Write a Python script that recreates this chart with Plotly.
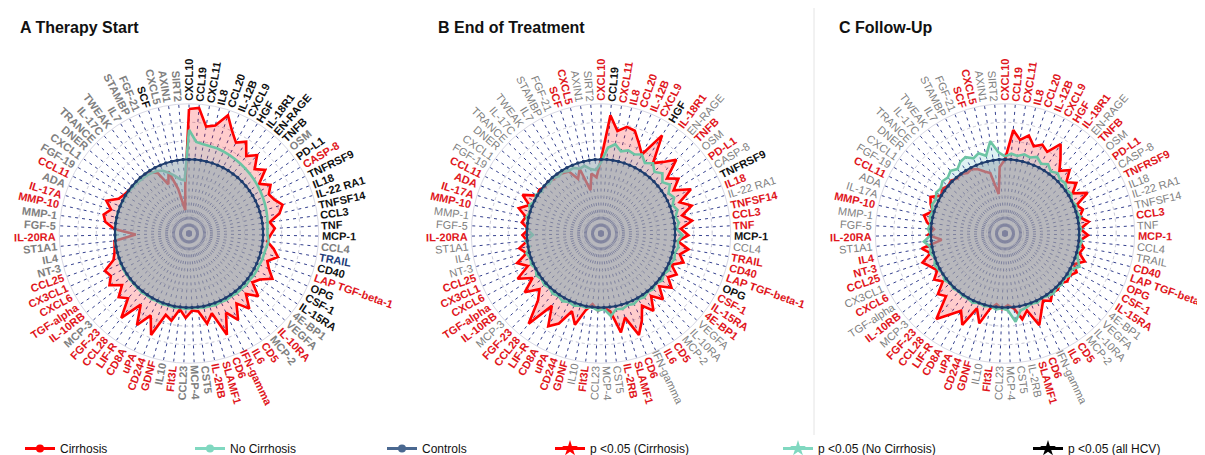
import math
import plotly.graph_objects as go

categories = [
    "CXCL10", "CCL19", "CXCL11", "IL8", "CCL20", "IL-12B", "CXCL9", "HGF", "IL-18R1", "EN-RAGE",
    "TNFB", "OSM", "PD-L1", "CASP-8", "TNFRSF9", "IL18", "IL-22 RA1", "TNFSF14", "CCL3", "TNF",
    "MCP-1", "CCL4", "TRAIL", "CD40", "LAP TGF-beta-1", "OPG", "CSF-1", "IL-15RA", "4E-BP1", "VEGFA",
    "IL-10RA", "MCP-2", "CD5", "IL6", "IFN-gamma", "CD6", "SLAMF1", "IL-2RB", "CST5", "MCP-4",
    "CCL23", "Flt3L", "IL10", "GDNF", "CD244", "uPA", "CD8A", "LIF-R", "CCL28", "FGF-23",
    "MCP-3", "IL-10RB", "TGF-alpha", "CXCL6", "CX3CL1", "CCL25", "NT-3", "IL4", "ST1A1", "IL-20RA",
    "FGF-5", "MMP-1", "MMP-10", "IL-17A", "ADA", "CCL11", "FGF-19", "CXCL1", "DNER", "TRANCE",
    "IL-17C", "TWEAK", "IL7", "STAMBP", "FGF-21", "SCF", "CXCL5", "AXIN1", "SIRT2",
]

controls = [
    100, 100, 100, 100, 100, 100, 100, 100, 100, 100,
    100, 100, 100, 100, 100, 100, 100, 100, 100, 100,
    100, 100, 100, 100, 100, 100, 100, 100, 100, 100,
    100, 100, 100, 100, 100, 100, 100, 100, 100, 100,
    100, 100, 100, 100, 100, 100, 100, 100, 100, 100,
    100, 100, 100, 100, 100, 100, 100, 100, 100, 100,
    100, 100, 100, 100, 100, 100, 100, 100, 100, 100,
    100, 100, 100, 100, 100, 100, 100, 100, 100,
]

cirrhosis_A = [
    168, 170, 146, 150, 168, 150, 138, 146, 130, 140,
    124, 134, 116, 128, 120, 124, 132, 125, 110, 116,
    110, 106, 116, 124, 112, 118, 128, 114, 108, 126,
    112, 130, 114, 134, 118, 146, 112, 124, 106, 104,
    114, 103, 120, 114, 146, 122, 142, 116, 146, 120,
    128, 114, 128, 120, 124, 108, 104, 102, 101, 72,
    101, 114, 118, 110, 120, 106, 102, 100, 99, 98,
    99, 98, 97, 92, 72, 88, 62, 32, 64,
]
no_cirrhosis_A = [
    140, 124, 122, 121, 121, 120, 119, 118, 117, 116,
    115, 114, 113, 112, 111, 110, 109, 108, 107, 106,
    106, 108, 106, 105, 105, 104, 104, 104, 103, 104,
    103, 103, 102, 103, 102, 103, 102, 102, 101, 101,
    102, 101, 102, 101, 102, 101, 102, 101, 102, 101,
    101, 101, 101, 101, 101, 100, 100, 100, 100, 99,
    100, 100, 100, 100, 100, 99, 99, 99, 98, 98,
    97, 97, 96, 95, 92, 86, 80, 74, 72,
]
cirrhosis_B = [
    100, 160, 140, 148, 146, 132, 120, 156, 118, 128,
    142, 116, 128, 114, 135, 114, 128, 112, 124, 108,
    118, 104, 120, 110, 118, 104, 116, 108, 120, 106,
    122, 108, 126, 112, 130, 146, 118, 136, 106, 100,
    104, 96, 106, 128, 112, 134, 144, 118, 156, 124,
    112, 130, 110, 128, 108, 120, 104, 112, 100, 106,
    98, 108, 104, 116, 104, 118, 100, 102, 98, 100,
    97, 98, 96, 94, 80, 92, 60, 82, 76,
]
no_cirrhosis_B = [
    96, 116, 122, 114, 118, 116, 120, 112, 118, 110,
    116, 108, 114, 106, 110, 104, 108, 103, 106, 102,
    110, 104, 106, 103, 105, 102, 104, 101, 104, 100,
    103, 101, 104, 102, 105, 103, 106, 104, 112, 102,
    104, 100, 102, 101, 104, 102, 105, 102, 104, 101,
    103, 101, 104, 100, 103, 101, 104, 98, 102, 92,
    100, 99, 103, 100, 104, 99, 102, 98, 100, 97,
    99, 96, 98, 95, 96, 92, 94, 88, 86,
]
cirrhosis_C = [
    100, 140, 128, 136, 124, 130, 124, 142, 126, 112,
    122, 108, 118, 106, 124, 104, 110, 103, 114, 102,
    112, 101, 108, 104, 114, 102, 110, 104, 106, 100,
    104, 102, 110, 104, 116, 132, 108, 118, 102, 97,
    102, 96, 104, 126, 108, 136, 120, 132, 148, 116,
    122, 106, 114, 104, 110, 118, 104, 114, 86, 104,
    96, 106, 112, 102, 108, 112, 100, 104, 100, 102,
    98, 100, 96, 98, 94, 88, 84, 54, 90,
]
no_cirrhosis_C = [
    104, 108, 106, 110, 108, 112, 106, 110, 104, 108,
    104, 106, 102, 104, 100, 103, 101, 104, 100, 103,
    99, 104, 102, 101, 104, 110, 102, 104, 100, 103,
    101, 104, 102, 100, 103, 101, 104, 106, 120, 104,
    101, 103, 100, 102, 100, 103, 101, 102, 100, 102,
    100, 103, 100, 102, 104, 100, 104, 102, 110, 100,
    104, 101, 104, 102, 106, 104, 108, 106, 110, 108,
    112, 108, 114, 116, 110, 114, 108, 126, 110,
]

# label colour codes: r = p<0.05 cirrhosis, k = all HCV, g = n.s., b = no cirrhosis
label_codes_A = [
    "k", "k", "k", "k", "k", "k", "k", "k", "k", "k",
    "k", "g", "k", "r", "k", "k", "k", "k", "k", "k",
    "k", "g", "b", "k", "r", "k", "k", "k", "g", "g",
    "r", "g", "r", "r", "r", "r", "r", "r", "g", "g",
    "g", "r", "g", "r", "r", "r", "r", "r", "r", "r",
    "g", "r", "r", "r", "r", "r", "g", "g", "g", "r",
    "g", "g", "r", "r", "g", "r", "g", "g", "g", "g",
    "g", "g", "g", "g", "g", "k", "g", "g", "g",
]
label_codes_B = [
    "r", "k", "r", "r", "r", "r", "r", "k", "r", "g",
    "r", "g", "r", "g", "k", "r", "g", "r", "r", "r",
    "k", "g", "r", "r", "r", "k", "r", "r", "r", "g",
    "g", "g", "r", "r", "g", "r", "r", "r", "g", "g",
    "g", "r", "g", "r", "r", "r", "r", "r", "r", "r",
    "g", "r", "r", "r", "r", "r", "g", "g", "g", "r",
    "g", "g", "r", "r", "r", "r", "g", "g", "g", "g",
    "g", "g", "g", "g", "g", "r", "r", "g", "g",
]
label_codes_C = [
    "r", "r", "r", "r", "r", "r", "r", "r", "r", "g",
    "r", "g", "r", "g", "r", "g", "g", "g", "r", "g",
    "r", "g", "g", "r", "r", "r", "r", "r", "g", "g",
    "g", "g", "r", "r", "g", "r", "r", "g", "g", "g",
    "g", "r", "g", "r", "r", "r", "r", "r", "r", "r",
    "g", "r", "g", "r", "g", "r", "r", "r", "g", "r",
    "g", "g", "r", "g", "g", "r", "g", "g", "g", "g",
    "g", "g", "g", "g", "g", "r", "r", "g", "g",
]

panel_titles = ["A Therapy Start", "B End of Treatment", "C Follow-Up"]
legend_names = ["Cirrhosis", "No Cirrhosis", "Controls",
                "p <0.05 (Cirrhosis)", "p <0.05 (No Cirrhosis)", "p <0.05 (all HCV)"]

panels = [
    (cirrhosis_A, no_cirrhosis_A, label_codes_A),
    (cirrhosis_B, no_cirrhosis_B, label_codes_B),
    (cirrhosis_C, no_cirrhosis_C, label_codes_C),
]

# ---------------- styling / layout ----------------
W, H = 1205, 455
centers = [(181, 226), (593, 226), (997, 226)]
R = 130
R_LABEL = 133
RMAX = 175
FONT = "Liberation Sans, Arial, sans-serif"
RED = "#ff0000"
TEAL = "#6cc4a4"
NAVY = "#1f3d6e"
code_color = {"r": "#e0161c", "k": "#111111", "g": "#808080", "b": "#1f3d7a"}

WID_B = {"I": .278, "l": .278, "i": .278, "t": .333, "f": .333, "r": .389, "-": .333, " ": .278,
         "1": .556, "J": .556, "L": .611, "F": .611, "T": .611, "E": .667, "S": .667, "P": .667,
         "B": .722, "C": .722, "R": .722, "A": .722, "N": .722, "D": .722, "H": .722, "K": .722,
         "G": .778, "O": .778, "M": .833, "W": .944, "X": .667, "V": .667, "Y": .667}
WID_R = {"I": .278, "l": .222, "i": .222, "t": .278, "f": .278, "r": .333, "-": .333, " ": .278,
         "J": .5, "L": .556, "F": .611, "T": .611, "E": .667, "S": .667, "P": .667,
         "B": .667, "C": .722, "R": .722, "A": .667, "N": .722, "D": .722, "H": .722, "K": .667,
         "G": .778, "O": .778, "M": .833, "W": .944, "X": .667, "V": .667, "Y": .667}


def text_width(s, size, bold):
    table = WID_B if bold else WID_R
    tot = 0.0
    for ch in s:
        if ch in table:
            tot += table[ch]
        elif ch.isdigit():
            tot += .556
        elif ch.islower():
            tot += .58 if bold else .53
        else:
            tot += .7
    return tot * size


fig = go.Figure()
n = len(categories)
subplots = ["polar", "polar2", "polar3"]
annotations = []

for p, ((cir, noc, codes), sp) in enumerate(zip(panels, subplots)):
    theta = categories + categories[:1]
    fig.add_trace(go.Scatterpolar(r=cir + cir[:1], theta=theta, subplot=sp, mode="lines",
                                  fill="toself", fillcolor="rgba(255,0,0,0.2)",
                                  line=dict(color=RED, width=2.6), showlegend=False,
                                  hoverinfo="skip"))
    fig.add_trace(go.Scatterpolar(r=noc + noc[:1], theta=theta, subplot=sp, mode="lines",
                                  fill="toself", fillcolor="rgba(110,190,200,0.22)",
                                  line=dict(color=TEAL, width=2.6), showlegend=False,
                                  hoverinfo="skip"))
    fig.add_trace(go.Scatterpolar(r=controls + controls[:1], theta=theta, subplot=sp,
                                  mode="lines+markers", fill="toself",
                                  fillcolor="rgba(152,170,178,0.55)",
                                  line=dict(color=NAVY, width=2),
                                  marker=dict(size=3.5, color=NAVY), showlegend=False,
                                  hoverinfo="skip"))

    cx, cy = centers[p]
    dom_x = [(cx - R) / W, (cx + R) / W]
    dom_y = [(H - cy - R) / H, (H - cy + R) / H]
    fig.update_layout(**{sp: dict(
        domain=dict(x=dom_x, y=dom_y),
        bgcolor="white",
        radialaxis=dict(range=[0, RMAX], tickvals=[25, 50, 75, 100, 125, 150],
                        showticklabels=False, ticks="", showline=False,
                        gridcolor="#c6c6d6", griddash="dot", gridwidth=1),
        angularaxis=dict(type="category", categoryorder="array", categoryarray=categories,
                         rotation=90, direction="clockwise", showticklabels=False, ticks="",
                         gridcolor="#34408e", griddash="3px,4px", gridwidth=1,
                         showline=True, linecolor="#d8d8e4", linewidth=1),
    )})

    # rotated category labels around the circle
    for i, lab in enumerate(categories):
        code = codes[i]
        bold = (code != "g") or p == 0
        th = i * 360.0 / n
        t = math.radians(th)
        w = text_width(lab, 11, bold)
        rc = R_LABEL + w / 2.0
        x = (cx + rc * math.sin(t)) / W
        y = (H - (cy - rc * math.cos(t))) / H
        ang = th - 90 if th < 180 else th - 270
        annotations.append(dict(
            x=x, y=y, xref="paper", yref="paper", xanchor="center", yanchor="middle",
            text=f"<b>{lab}</b>" if bold else lab, textangle=ang, showarrow=False,
            font=dict(family=FONT, size=11, color=code_color[code]), borderpad=0))

    annotations.append(dict(
        x=[10, 428, 829][p] / W, y=(H - 20) / H, xref="paper", yref="paper",
        xanchor="left", yanchor="middle", showarrow=False,
        text=f"<b>{panel_titles[p]}</b>", font=dict(family=FONT, size=16, color="#111111")))

# legend entries (each in its own legend so positions match)
legend_styles = [
    dict(line=dict(color=RED, width=3), marker=dict(symbol="circle", size=8, color=RED)),
    dict(line=dict(color="#80d8c0", width=3), marker=dict(symbol="circle", size=8, color="#80d8c0")),
    dict(line=dict(color="#4a6890", width=3), marker=dict(symbol="circle", size=8, color="#4a6890")),
    dict(line=dict(color=RED, width=3), marker=dict(symbol="star", size=12, color=RED)),
    dict(line=dict(color="#80d8c0", width=3), marker=dict(symbol="star", size=12, color="#80d8c0")),
    dict(line=dict(color="#000000", width=3), marker=dict(symbol="star", size=12, color="#000000")),
]
legend_x = [12, 182, 374, 542, 770, 1020]
legend_keys = ["legend", "legend2", "legend3", "legend4", "legend5", "legend6"]
for name, st, key in zip(legend_names, legend_styles, legend_keys):
    fig.add_trace(go.Scatterpolar(r=[None], theta=[None], subplot="polar", mode="lines+markers",
                                  name=name, legend=key, showlegend=True, **st))

leg_layout = {}
for key, lx in zip(legend_keys, legend_x):
    leg_layout[key] = dict(x=lx / W, y=(H - 441) / H, xanchor="left", yanchor="middle",
                           orientation="h", bgcolor="rgba(0,0,0,0)",
                           font=dict(family="Liberation Sans Narrow, Arial Narrow, Liberation Sans",
                                     size=12, color="#111111"))

fig.update_layout(
    width=W, height=H,
    margin=dict(l=0, r=0, t=0, b=0),
    paper_bgcolor="white",
    plot_bgcolor="white",
    annotations=annotations,
    shapes=[dict(type="line", xref="paper", yref="paper", x0=806 / W, x1=806 / W,
                 y0=(H - 428) / H, y1=1, line=dict(color="#e4e4e4", width=1))],
    **leg_layout,
)

fig.write_html("out.html")
